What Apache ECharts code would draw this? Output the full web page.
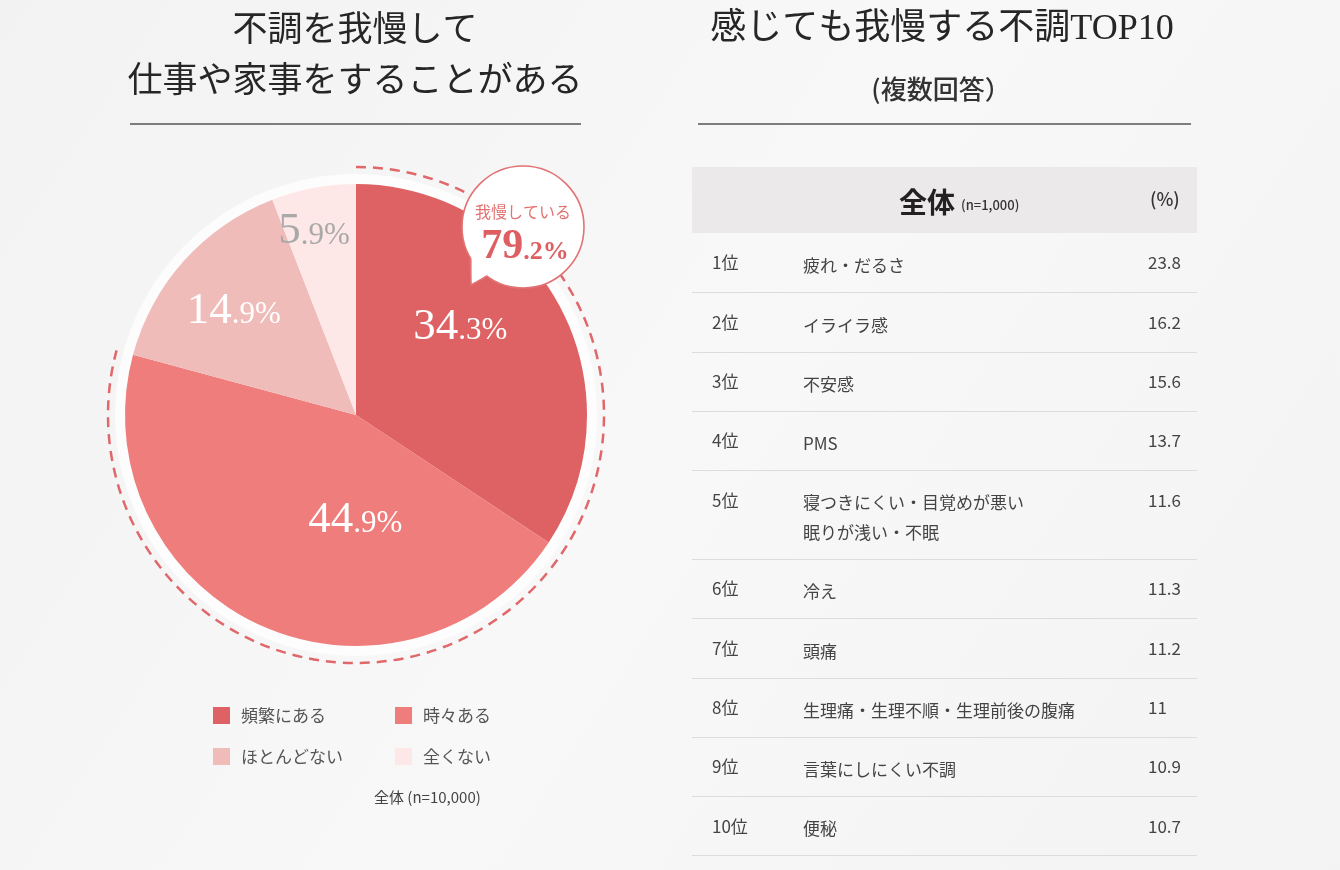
<!DOCTYPE html>
<html><head><meta charset="utf-8">
<script src="https://cdn.jsdelivr.net/npm/echarts@6/dist/echarts.min.js"></script>
<style>html,body{margin:0;padding:0;background:#f5f5f5}#c{width:1340px;height:870px}</style>
</head><body><div id="c"></div>
<script>
// ---- data ----
const pieCategories = ['頻繁にある', '時々ある', 'ほとんどない', '全くない'];
const pieValues = [34.3, 44.9, 14.9, 5.9];
const leftTitleLines = ['不調を我慢して', '仕事や家事をすることがある'];
const rightTitle = '感じても我慢する不調TOP10';
const rightSubtitle = '(複数回答）';
const bubbleCaption = '我慢している';
const pieNote = '全体 (n=10,000)';
const tableHeaderMain = '全体';
const tableHeaderN = '(n=1,000)';
const tableHeaderUnit = '(%)';
const rankLabels = ['1位', '2位', '3位', '4位', '5位', '6位', '7位', '8位', '9位', '10位'];
const itemLabels = ['疲れ・だるさ', 'イライラ感', '不安感', 'PMS', '寝つきにくい・目覚めが悪い\n眠りが浅い・不眠', '冷え', '頭痛', '生理痛・生理不順・生理前後の腹痛', '言葉にしにくい不調', '便秘'];
const itemValues = [23.8, 16.2, 15.6, 13.7, 11.6, 11.3, 11.2, 11, 10.9, 10.7];

// ---- styles ----
const SANS = "'Noto Sans CJK JP', 'Noto Sans', sans-serif";
const SERIF = "'Liberation Serif', 'DejaVu Serif', 'Noto Sans CJK JP', serif";
const sliceColors = ['#de6163', '#ee7d7c', '#f0bcba', '#fde8e7'];
const labelColors = ['#ffffff', '#ffffff', '#ffffff', '#a9a9a9'];
const labelOffsets = [[0, -32], [48, -3], [-34, -25], [-20, -67]];
const PIE_C = [356, 415], PIE_R = 231, RING_R = 248;

const chart = echarts.init(document.getElementById('c'));

function splitPct(v) {
  const s = v.toFixed(1).split('.');
  return { i: s[0], d: '.' + s[1] + '%' };
}

const graphics = [];
// titles
leftTitleLines.forEach((t, k) => graphics.push({
  type: 'text', x: 355, y: k === 0 ? 32 : 83, z: 5,
  style: { text: t, font: `normal 35px ${SERIF}`, fill: '#262626', textAlign: 'center', textVerticalAlign: 'middle' }
}));
graphics.push({ type: 'line', shape: { x1: 130, y1: 124, x2: 581, y2: 124 }, style: { stroke: '#555', lineWidth: 1.5 } });
graphics.push({
  type: 'text', x: 942, y: 30, z: 5,
  style: { text: rightTitle, font: `normal 36px ${SERIF}`, fill: '#262626', textAlign: 'center', textVerticalAlign: 'middle' }
});
graphics.push({
  type: 'text', x: 941, y: 89, z: 5,
  style: { text: rightSubtitle, font: `500 26px ${SANS}`, fill: '#333', textAlign: 'center', textVerticalAlign: 'middle' }
});
graphics.push({ type: 'line', shape: { x1: 698, y1: 124, x2: 1191, y2: 124 }, style: { stroke: '#555', lineWidth: 1.5 } });

// pie halo and dashed ring
graphics.push({ type: 'circle', z: 1, shape: { cx: PIE_C[0], cy: PIE_C[1], r: 241 }, style: { fill: '#ffffff', opacity: 0.75 } });
const ringShare = (pieValues[0] + pieValues[1]) / 100;
graphics.push({
  type: 'arc', z: 3,
  shape: { cx: PIE_C[0], cy: PIE_C[1], r: RING_R, startAngle: -Math.PI / 2, endAngle: -Math.PI / 2 + Math.PI * 2 * ringShare, clockwise: true },
  style: { stroke: '#e0676a', lineWidth: 2.5, lineDash: [10, 7], fill: null }
});

// bubble
const BC = [523, 227], BR = 61;
const ang = d => d * Math.PI / 180;
const pA = [BC[0] + BR * Math.cos(ang(150)), BC[1] + BR * Math.sin(ang(150))];
const pB = [BC[0] + BR * Math.cos(ang(126)), BC[1] + BR * Math.sin(ang(126))];
const tip = [471, 285];
graphics.push({ type: 'circle', z: 10, shape: { cx: BC[0], cy: BC[1], r: BR }, style: { fill: '#fff', stroke: '#e27374', lineWidth: 1.6 } });
graphics.push({ type: 'polygon', z: 11, shape: { points: [[pA[0] + 1.5, pA[1] - 2], tip, [pB[0] + 1, pB[1] - 2]] }, style: { fill: '#fff' } });
graphics.push({ type: 'polyline', z: 12, shape: { points: [pA, tip, pB] }, style: { stroke: '#e27374', lineWidth: 1.6, fill: null } });
graphics.push({
  type: 'text', x: BC[0], y: 212, z: 13,
  style: { text: bubbleCaption, font: `normal 16px ${SANS}`, fill: '#e27372', textAlign: 'center', textVerticalAlign: 'middle' }
});
const tot = splitPct(pieValues[0] + pieValues[1]);
graphics.push({
  type: 'text', x: BC[0] + 2, y: 247, z: 13,
  style: {
    text: `{b|${tot.i}}{s|${tot.d}}`, textAlign: 'center', textVerticalAlign: 'middle', fill: '#dd5f62',
    rich: {
      b: { fontFamily: SERIF, fontSize: 42, fontWeight: 'bold', fill: '#dd5f62', verticalAlign: 'bottom' },
      s: { fontFamily: SERIF, fontSize: 26, fontWeight: 'bold', fill: '#dd5f62', verticalAlign: 'bottom', padding: [0, 0, 3, 0] }
    }
  }
});

// pie note
graphics.push({
  type: 'text', x: 374, y: 797,
  style: { text: pieNote, font: `15px ${SANS}`, fill: '#444', textVerticalAlign: 'middle' }
});

// table
const T_X1 = 692, T_X2 = 1197, H_TOP = 167, H_BOT = 233, ROW_H = 59.3, LINE_H = 29.5;
graphics.push({ type: 'rect', shape: { x: T_X1, y: H_TOP, width: T_X2 - T_X1, height: H_BOT - H_TOP }, style: { fill: '#ebe9e9' } });
graphics.push({ type: 'text', x: 899, y: 202, style: { text: tableHeaderMain, font: `bold 28px ${SANS}`, fill: '#222', textVerticalAlign: 'middle' } });
graphics.push({ type: 'text', x: 961, y: 205, style: { text: tableHeaderN, font: `500 13px ${SANS}`, fill: '#333', textVerticalAlign: 'middle' } });
graphics.push({ type: 'text', x: 1150, y: 199, style: { text: tableHeaderUnit, font: `500 18px ${SANS}`, fill: '#333', textVerticalAlign: 'middle' } });
let rowTop = H_BOT;
rankLabels.forEach((rk, i) => {
  const nLines = itemLabels[i].split('\n').length;
  const h = ROW_H + (nLines - 1) * LINE_H;
  const ty = rowTop + 30;
  graphics.push({ type: 'text', x: 712, y: ty, style: { text: rk, font: `17px ${SANS}`, fill: '#444', textVerticalAlign: 'middle' } });
  graphics.push({ type: 'text', x: 803, y: ty - 12, style: { text: itemLabels[i], font: `17px ${SANS}`, fill: '#444', textVerticalAlign: 'top', lineHeight: LINE_H } });
  graphics.push({ type: 'text', x: 1148, y: ty, style: { text: String(itemValues[i]), font: `17px ${SANS}`, fill: '#444', textVerticalAlign: 'middle' } });
  rowTop += h;
  graphics.push({ type: 'line', shape: { x1: T_X1, y1: Math.round(rowTop) + 0.5, x2: T_X2, y2: Math.round(rowTop) + 0.5 }, style: { stroke: '#dcdcdc', lineWidth: 1 } });
});

const legendPos = [[213, 707], [395, 707], [213, 748], [395, 748]];
const legends = pieCategories.map((name, i) => ({
  data: [name], left: legendPos[i][0], top: legendPos[i][1], selectedMode: false,
  icon: 'rect', itemWidth: 17, itemHeight: 17, padding: 0,
  textStyle: { fontFamily: SANS, fontSize: 17, color: '#555', padding: [0, 0, 0, 6] }
}));

chart.setOption({
  animation: false,
  backgroundColor: {
    type: 'linear', x: 0, y: 0, x2: 1, y2: 1,
    colorStops: [{ offset: 0, color: '#f2f2f2' }, { offset: 0.5, color: '#f8f8f8' }, { offset: 1, color: '#f3f3f3' }]
  },
  legend: legends,
  graphic: { elements: graphics },
  series: [{
    type: 'pie', z: 2, center: PIE_C, radius: [0, PIE_R], startAngle: 90, clockwise: true,
    silent: true, avoidLabelOverlap: false,
    data: pieCategories.map((name, i) => ({
      name, value: pieValues[i],
      itemStyle: { color: sliceColors[i] },
      label: { color: labelColors[i], offset: labelOffsets[i] }
    })),
    label: {
      show: true, position: 'inside',
      formatter: p => { const s = splitPct(p.value); return `{b|${s.i}}{s|${s.d}}`; },
      rich: {
        b: { fontFamily: SERIF, fontSize: 45, verticalAlign: 'bottom' },
        s: { fontFamily: SERIF, fontSize: 31, verticalAlign: 'bottom', padding: [0, 0, 3, 0] }
      }
    },
    labelLine: { show: false }
  }]
});
</script></body></html>
